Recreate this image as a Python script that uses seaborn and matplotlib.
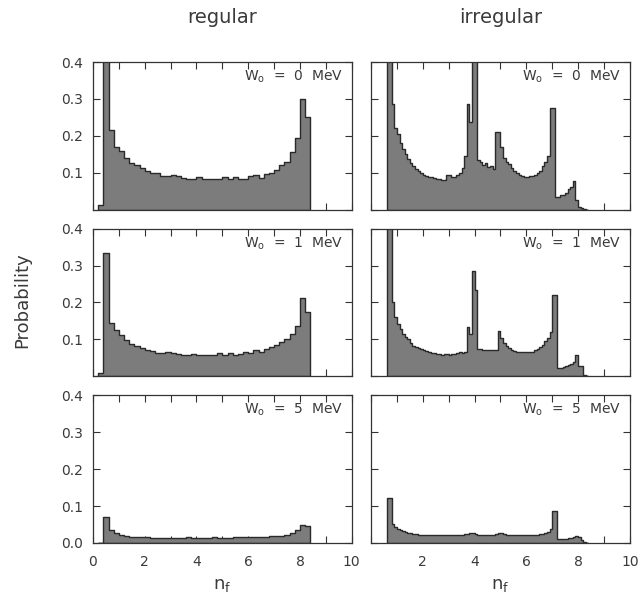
import numpy as np
import pandas as pd
import matplotlib
matplotlib.use("Agg")
import matplotlib.pyplot as plt
from matplotlib.ticker import MultipleLocator
import seaborn as sns

# ---- data ----
# regular: bins of 0.2 starting at n_f = 0.2
reg_start = 0.2
reg_width = 0.2
reg_w0 = [0.012, 0.55, 0.215, 0.17, 0.16, 0.14, 0.125, 0.12, 0.112, 0.105,
          0.10, 0.098, 0.092, 0.092, 0.095, 0.09, 0.085, 0.083, 0.083, 0.087,
          0.083, 0.083, 0.083, 0.083, 0.087, 0.083, 0.087, 0.083, 0.083, 0.09,
          0.095, 0.085, 0.097, 0.10, 0.108, 0.12, 0.13, 0.155, 0.195, 0.30,
          0.25]
reg_w1 = [0.01, 0.334, 0.145, 0.125, 0.112, 0.098, 0.088, 0.083, 0.077, 0.072,
          0.068, 0.063, 0.063, 0.067, 0.063, 0.06, 0.058, 0.058, 0.06, 0.058,
          0.058, 0.058, 0.058, 0.062, 0.058, 0.062, 0.058, 0.06, 0.065, 0.062,
          0.07, 0.065, 0.073, 0.078, 0.085, 0.092, 0.10, 0.115, 0.137, 0.212,
          0.175]
reg_w5 = [0.0, 0.07, 0.035, 0.027, 0.022, 0.019, 0.017, 0.016, 0.015, 0.015,
          0.014, 0.014, 0.013, 0.013, 0.013, 0.013, 0.014, 0.015, 0.014, 0.014,
          0.014, 0.014, 0.015, 0.014, 0.014, 0.014, 0.015, 0.015, 0.015, 0.016,
          0.016, 0.017, 0.017, 0.018, 0.018, 0.02, 0.023, 0.028, 0.035, 0.05,
          0.045]

# irregular: bins of 0.1 starting at n_f = 0.6
irr_start = 0.6
irr_width = 0.1
irr_w0 = [0.60, 0.60, 0.285, 0.22,
          0.205, 0.18, 0.165, 0.15, 0.137, 0.127, 0.118, 0.11, 0.105, 0.10,
          0.095, 0.092, 0.089, 0.087, 0.085, 0.083, 0.082, 0.081, 0.08, 0.095,
          0.095, 0.088, 0.088, 0.093, 0.10, 0.112, 0.145, 0.285, 0.237, 0.60,
          0.60, 0.135, 0.128, 0.12, 0.125, 0.115, 0.118, 0.11, 0.21, 0.21,
          0.17, 0.14, 0.13, 0.124, 0.114, 0.105, 0.098, 0.093, 0.09, 0.088,
          0.087, 0.09, 0.091, 0.093, 0.10, 0.105, 0.118, 0.13, 0.145, 0.275,
          0.275, 0.033, 0.035, 0.04, 0.04, 0.045, 0.055, 0.06, 0.078, 0.025,
          0.006, 0.003, 0.002, 0.0]
irr_w1 = [0.60, 0.60, 0.20, 0.16,
          0.141, 0.128, 0.114, 0.107, 0.10, 0.091, 0.082, 0.08, 0.077, 0.074,
          0.071, 0.069, 0.066, 0.064, 0.062, 0.06, 0.06, 0.059, 0.06, 0.06,
          0.059, 0.06, 0.06, 0.062, 0.066, 0.063, 0.065, 0.134, 0.114, 0.286,
          0.233, 0.075, 0.073, 0.072, 0.07, 0.072, 0.07, 0.07, 0.072, 0.123,
          0.105, 0.091, 0.082, 0.076, 0.072, 0.068, 0.066, 0.066, 0.065, 0.066,
          0.066, 0.067, 0.066, 0.07, 0.075, 0.08, 0.086, 0.095, 0.105, 0.12,
          0.219, 0.219, 0.022, 0.022, 0.025, 0.027, 0.03, 0.033, 0.04, 0.058,
          0.027, 0.027, 0.003, 0.0]
irr_w5 = [0.122, 0.122, 0.051, 0.042,
          0.038, 0.035, 0.032, 0.029, 0.027, 0.026, 0.025, 0.024, 0.023, 0.023,
          0.022, 0.022, 0.022, 0.022, 0.022, 0.022, 0.022, 0.022, 0.022, 0.022,
          0.022, 0.022, 0.022, 0.022, 0.022, 0.023, 0.024, 0.025, 0.027, 0.027,
          0.025, 0.023, 0.022, 0.022, 0.022, 0.022, 0.022, 0.023, 0.025, 0.027,
          0.027, 0.024, 0.022, 0.022, 0.022, 0.022, 0.022, 0.022, 0.022, 0.022,
          0.022, 0.022, 0.022, 0.022, 0.023, 0.024, 0.025, 0.027, 0.03, 0.038,
          0.087, 0.087, 0.011, 0.011, 0.011, 0.012, 0.013, 0.014, 0.016, 0.02,
          0.015, 0.008, 0.002, 0.0]

col_titles = ["regular", "irregular"]
w_labels = ["0", "1", "5"]
x_ticks = [0, 2, 4, 6, 8, 10]
y_ticks = [0.0, 0.1, 0.2, 0.3, 0.4]

FILL = "#7c7c7c"
EDGE = "#2a2a2a"
TXT = "#3a3a3a"

sns.set_style("ticks")
plt.rcParams['font.family'] = ['DejaVu Sans']

fig, axes = plt.subplots(3, 2, figsize=(6.4, 5.98), dpi=100)
fig.subplots_adjust(left=0.1453, right=0.984, top=0.8963, bottom=0.092,
                    hspace=0.13, wspace=0.075)

columns = [(reg_start, reg_width, [reg_w0, reg_w1, reg_w5]),
           (irr_start, irr_width, [irr_w0, irr_w1, irr_w5])]

for c, (start, width, series) in enumerate(columns):
    for r, vals in enumerate(series):
        ax = axes[r, c]
        n = len(vals)
        edges = [round(start + width * i, 2) for i in range(n + 1)]
        df = pd.DataFrame({"nf": [e + width / 2 for e in edges[:-1]],
                           "prob": vals})
        sns.histplot(data=df, x="nf", weights="prob", bins=edges,
                     element="step", fill=True, color=FILL, alpha=1,
                     edgecolor=EDGE, linewidth=1.0, ax=ax)
        ax.set_xlim(0, 10)
        ax.set_ylim(0, 0.4)
        ax.set_ylabel("")
        ax.set_xlabel("")
        ax.set_xticks(x_ticks)
        ax.xaxis.set_minor_locator(MultipleLocator(1))
        ax.set_yticks(y_ticks)
        ax.tick_params(which='both', direction='in', top=True, right=True,
                       length=5, width=0.8, color="#333333",
                       labelsize=10, labelcolor=TXT, pad=7)
        for sp in ax.spines.values():
            sp.set_color("#333333")
            sp.set_linewidth(0.9)
        ax.text(0.965, 0.955, r"W$_\mathrm{o}$  =  " + w_labels[r] + "  MeV",
                transform=ax.transAxes, ha='right', va='top',
                fontsize=10, color=TXT)
        # tick labels
        if c == 0:
            if r == 2:
                ax.set_yticklabels(["0.0", "0.1", "0.2", "0.3", "0.4"])
            else:
                ax.set_yticklabels(["", "0.1", "0.2", "0.3", "0.4"])
        else:
            ax.set_yticklabels([])
        if r == 2:
            labs = [str(t) for t in x_ticks]
            if c == 1:
                labs[0] = ""
            ax.set_xticklabels(labs)
            ax.tick_params(axis='x', pad=9)
            ax.set_xlabel(r"n$_\mathrm{f}$", fontsize=13, color=TXT, labelpad=5)
        else:
            ax.set_xticklabels([])

    pos = axes[0, c].get_position()
    fig.text((pos.x0 + pos.x1) / 2, 0.97, col_titles[c], ha='center',
             va='center', fontsize=14, color=TXT)

fig.text(0.034, 0.498, "Probability", rotation=90, ha='center', va='center',
         fontsize=13, color=TXT)

fig.savefig("out.png", dpi=100)
